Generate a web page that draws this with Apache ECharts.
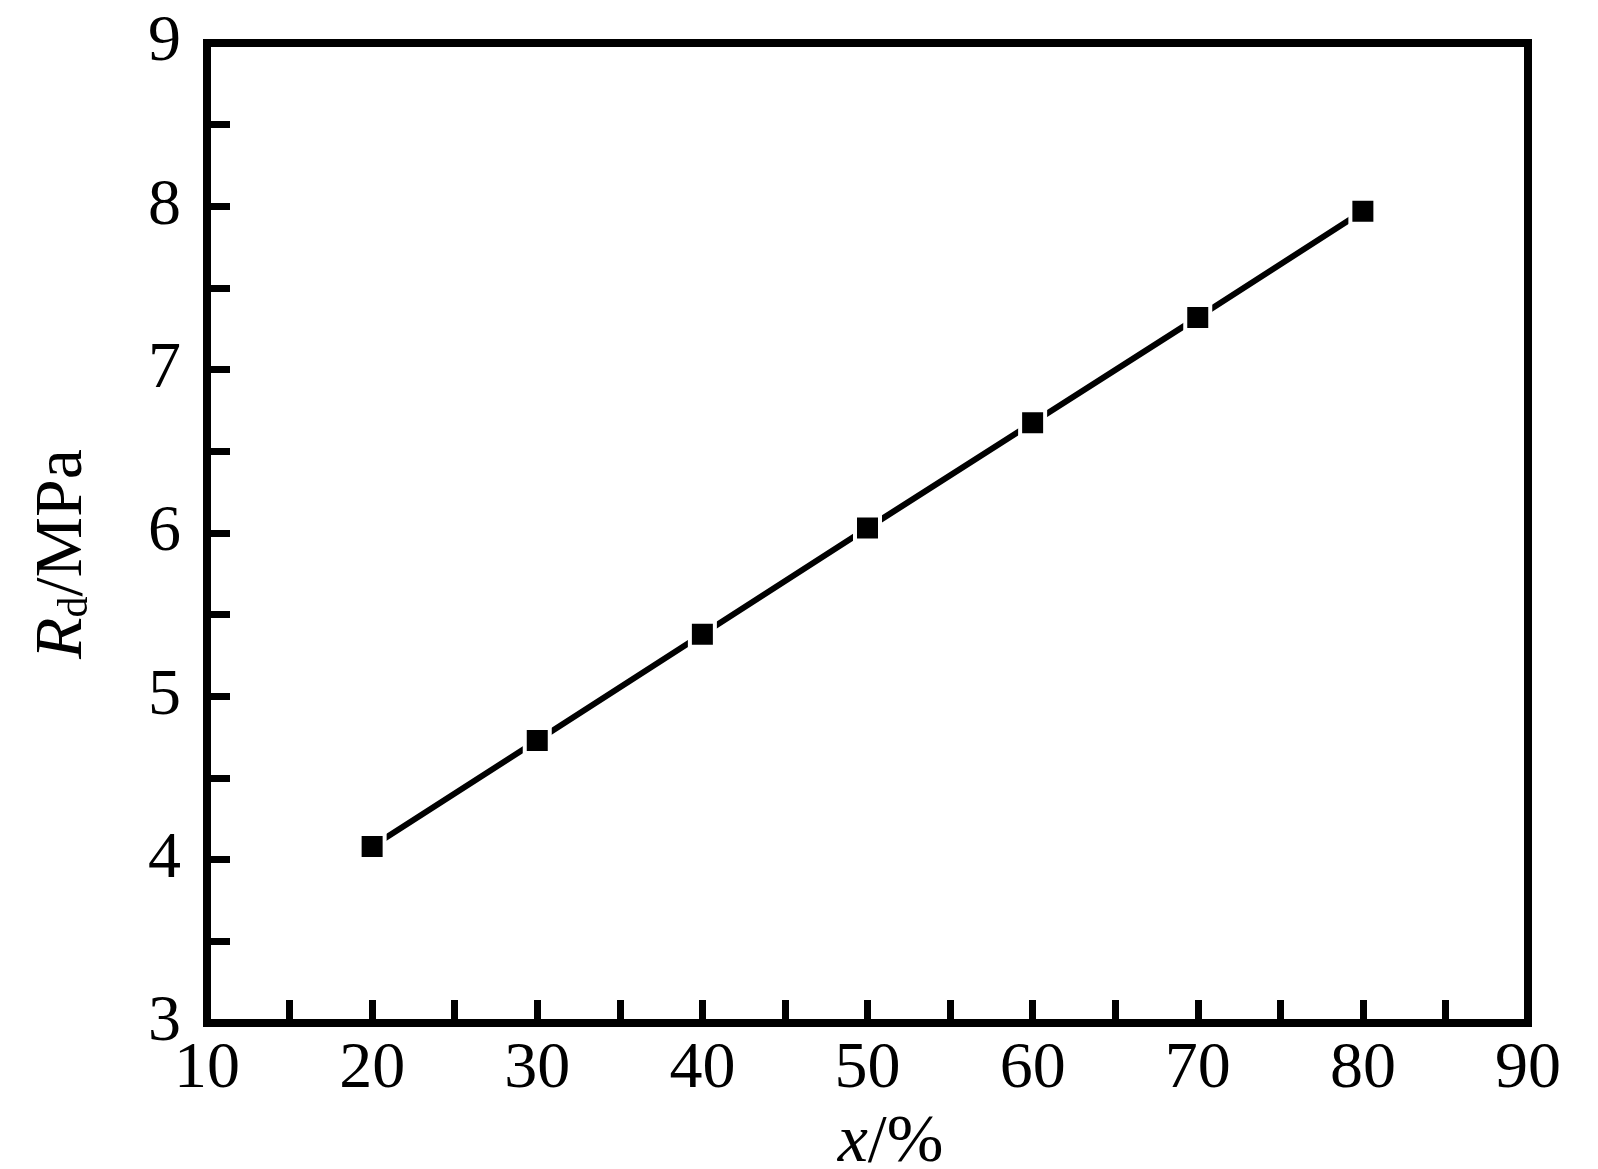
<!DOCTYPE html>
<html>
<head>
<meta charset="utf-8">
<script src="https://cdn.jsdelivr.net/npm/echarts@6/dist/echarts.min.js"></script>
<style>html,body{margin:0;padding:0;background:#fff;}#c{width:1598px;height:1169px;}</style>
</head>
<body>
<div id="c"></div>
<script>
const xValues = [20, 30, 40, 50, 60, 70, 80];
const rdValues = [4.08, 4.73, 5.38, 6.03, 6.675, 7.32, 7.97];
const xTickLabels = ['10', '20', '30', '40', '50', '60', '70', '80', '90'];
const yTickLabels = ['3', '4', '5', '6', '7', '8', '9'];

const FONT = 'Liberation Serif';
const chart = echarts.init(document.getElementById('c'));
chart.setOption({
  animation: false,
  backgroundColor: '#fff',
  grid: {left: 207, right: 70, top: 43, bottom: 146, containLabel: false, outerBoundsMode: 'none',
         show: true, borderColor: '#000', borderWidth: 8, backgroundColor: 'transparent'},
  xAxis: {
    type: 'value', min: 10, max: 90, interval: 5,
    axisLine: {show: false},
    axisTick: {show: true, inside: true, length: 23, lineStyle: {color: '#000', width: 7}},
    splitLine: {show: false},
    axisLabel: {
      margin: 14, color: '#000', fontFamily: FONT, fontSize: 66,
      showMinLabel: true, showMaxLabel: true,
      formatter: v => (xTickLabels.includes(String(v)) ? String(v) : '')
    },
    name: '{i|x}{n|/%}', nameLocation: 'middle', nameGap: 86,
    nameTextStyle: {
      padding: [0, 0, 0, 46],
      rich: {
        i: {fontFamily: FONT, fontStyle: 'italic', fontSize: 68, color: '#000'},
        n: {fontFamily: FONT, fontSize: 68, color: '#000'}
      }
    }
  },
  yAxis: {
    type: 'value', min: 3, max: 9, interval: 0.5,
    axisLine: {show: false},
    axisTick: {show: true, inside: true, length: 23, lineStyle: {color: '#000', width: 7}},
    splitLine: {show: false},
    axisLabel: {
      margin: 26, color: '#000', fontFamily: FONT, fontSize: 66,
      showMinLabel: true, showMaxLabel: true,
      formatter: v => (yTickLabels.includes(String(v)) ? String(v) : '')
    },
    name: '{i|R}{s|d}{n|/MPa}', nameLocation: 'middle', nameGap: 110, nameRotate: 90,
    nameTextStyle: {
      padding: [0, 42, 0, 0],
      rich: {
        i: {fontFamily: FONT, fontStyle: 'italic', fontSize: 68, color: '#000'},
        s: {fontFamily: FONT, fontSize: 42, color: '#000', verticalAlign: 'bottom', padding: [24, 0, 0, 0]},
        n: {fontFamily: FONT, fontSize: 68, color: '#000'}
      }
    }
  },
  series: [{
    type: 'line',
    data: xValues.map((x, i) => [x, rdValues[i]]),
    lineStyle: {color: '#000', width: 6},
    symbol: 'rect', symbolSize: 25,
    itemStyle: {color: '#000', borderColor: '#fff', borderWidth: 4},
    showSymbol: true
  }]
});
</script>
</body>
</html>
